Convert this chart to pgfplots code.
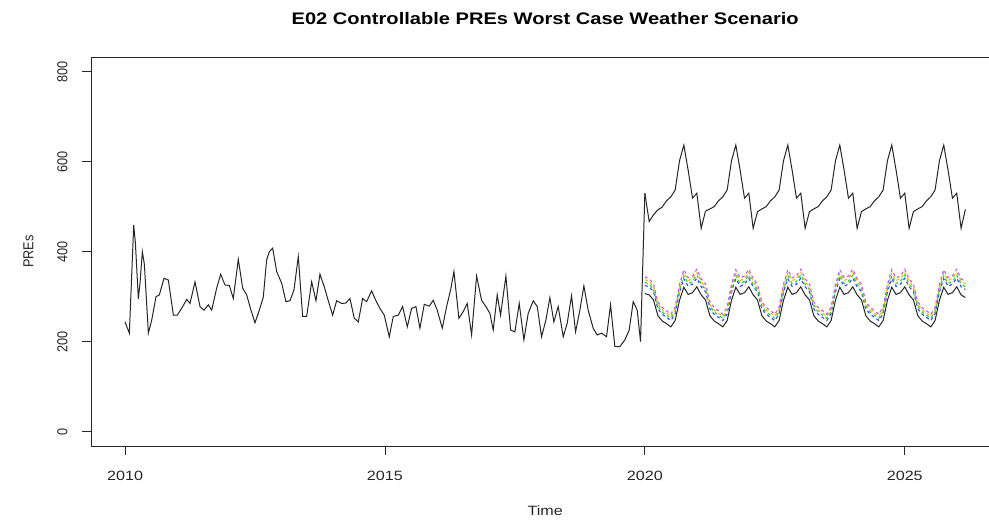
\documentclass[border=0pt]{standalone}
\usepackage{fontspec}
\setmainfont{Liberation Sans}[FakeStretch=1.2]
\newfontfamily\yfont{Liberation Sans}[FakeStretch=0.88]
\usepackage{pgfplots}
\pgfplotsset{compat=1.18}
\usepackage{pgfplotstable}

\definecolor{fblue}{RGB}{40,80,255}
\definecolor{fgreen}{RGB}{40,210,40}
\definecolor{forange}{RGB}{255,180,0}
\definecolor{fviolet}{RGB}{190,90,255}

\pgfplotstableread{
m up low b g o v
0 530 307 325 332 338 344
1 467 304 322 328 334 340
2 482 293 311 316 322 328
3 493 258 273 279 284 289
4 499 246 261 266 271 276
5 513 240 254 259 264 269
6 522 233 247 252 256 261
7 537 247 262 267 272 277
8 602 292 310 315 321 327
9 637 321 340 347 353 360
10 581 305 323 329 336 342
11 519 309 328 334 340 346
12 530 322 341 348 354 361
13 452 304 322 328 334 340
14 490 293 311 316 322 328
15 495 258 273 279 284 289
16 500 246 261 266 271 276
17 513 240 254 259 264 269
18 522 233 247 252 256 261
19 537 247 262 267 272 277
20 602 292 310 315 321 327
21 637 321 340 347 353 360
22 581 305 323 329 336 342
23 519 309 328 334 340 346
24 530 322 341 348 354 361
25 452 304 322 328 334 340
26 489 293 311 316 322 328
27 495 258 273 279 284 289
28 500 246 261 266 271 276
29 513 240 254 259 264 269
30 522 233 247 252 256 261
31 537 247 262 267 272 277
32 602 292 310 315 321 327
33 637 321 340 347 353 360
34 581 305 323 329 336 342
35 519 309 328 334 340 346
36 530 322 341 348 354 361
37 452 304 322 328 334 340
38 489 293 311 316 322 328
39 495 258 273 279 284 289
40 500 246 261 266 271 276
41 513 240 254 259 264 269
42 522 233 247 252 256 261
43 537 247 262 267 272 277
44 602 292 310 315 321 327
45 637 321 340 347 353 360
46 581 305 323 329 336 342
47 519 309 328 334 340 346
48 530 322 341 348 354 361
49 452 304 322 328 334 340
50 489 293 311 316 322 328
51 495 258 273 279 284 289
52 500 246 261 266 271 276
53 513 240 254 259 264 269
54 522 233 247 252 256 261
55 537 247 262 267 272 277
56 602 292 310 315 321 327
57 637 321 340 347 353 360
58 581 305 323 329 336 342
59 519 309 328 334 340 346
60 530 322 341 348 354 361
61 452 304 322 328 334 340
62 489 293 311 316 322 328
63 495 258 273 279 284 289
64 500 246 261 266 271 276
65 513 240 254 259 264 269
66 522 233 247 252 256 261
67 537 247 262 267 272 277
68 602 292 310 315 321 327
69 637 321 340 347 353 360
70 581 305 323 329 336 342
71 519 309 328 334 340 346
72 530 322 341 348 354 361
73 452 304 322 328 334 340
74 494 298 316 322 328 334
}\fcast

\begin{document}
\begin{tikzpicture}
\useasboundingbox (0,0) rectangle (989bp,520bp);
\clip (0,0) rectangle (989bp,520bp);
\begin{axis}[
  at={(91.4bp,73.9bp)}, anchor=south west,
  scale only axis, width=907.6bp, height=388.8bp,
  xmin=2009.353, xmax=2026.813, ymin=-32, ymax=832,
  xtick={2010,2015,2020,2025}, xticklabels={2010,2015,2020,2025},
  ytick={0,200,400,600,800}, yticklabels={0,200,400,600,800},
  tick align=outside, xtick pos=bottom, ytick pos=left,
  major tick length=9bp,
  axis line style={black!85, line width=0.8bp},
  every tick/.style={black!85, line width=0.8bp},
  xticklabel style={font=\fontsize{13.5}{15}\selectfont, anchor=base, yshift=-25bp, text=black!85},
  yticklabel style={font=\yfont\fontsize{14.5}{16}\selectfont, rotate=90, anchor=base, yshift=15bp, text=black!85},
]
\addplot[black!85, line width=1bp] coordinates {
(2010.000,244) (2010.083,219) (2010.167,459) (2010.199,420) (2010.256,295) (2010.288,330)
(2010.333,400) (2010.372,372) (2010.449,219) (2010.513,248) (2010.596,300) (2010.660,304)
(2010.750,341) (2010.833,337) (2010.930,259) (2011.006,259) (2011.109,278) (2011.186,294)
(2011.250,285) (2011.346,333) (2011.442,278) (2011.519,270) (2011.603,282) (2011.667,270)
(2011.763,319) (2011.840,350) (2011.923,326) (2012.006,325) (2012.083,296) (2012.179,383)
(2012.263,319) (2012.340,304) (2012.423,270) (2012.500,242) (2012.583,270) (2012.660,299)
(2012.724,382) (2012.776,400) (2012.840,408) (2012.917,356) (2013.013,330) (2013.096,289)
(2013.173,291) (2013.250,315) (2013.333,389) (2013.417,256) (2013.494,256) (2013.590,333)
(2013.673,291) (2013.750,350) (2013.833,322) (2013.910,291) (2013.994,259) (2014.071,291)
(2014.167,285) (2014.250,286) (2014.327,296) (2014.410,252) (2014.487,244) (2014.571,296)
(2014.647,289) (2014.744,313) (2014.827,291) (2014.904,274) (2014.987,259)
(2015.083,211) (2015.160,256) (2015.256,259) (2015.340,278) (2015.430,233) (2015.513,274)
(2015.596,278) (2015.673,230) (2015.756,283) (2015.853,279) (2015.929,292) (2016.006,270)
(2016.103,230) (2016.186,278) (2016.263,315) (2016.327,356) (2016.423,252) (2016.506,267)
(2016.583,285) (2016.667,215) (2016.763,346) (2016.859,292) (2016.942,278) (2017.019,263)
(2017.083,226) (2017.160,304) (2017.224,259) (2017.327,346) (2017.417,226) (2017.500,222)
(2017.583,285) (2017.673,204) (2017.756,263) (2017.853,291) (2017.930,278) (2018.013,211)
(2018.096,248) (2018.173,298) (2018.250,244) (2018.333,278) (2018.430,211) (2018.506,241)
(2018.590,302) (2018.667,222) (2018.750,270) (2018.827,324) (2018.910,270) (2019.006,230)
(2019.083,215) (2019.167,219) (2019.263,211) (2019.340,282) (2019.423,189) (2019.519,189)
(2019.615,204) (2019.699,226) (2019.776,289) (2019.853,270) (2019.917,200) (2020.000,530)
};
\addplot[black!85, line width=1bp] table[x expr=2020+\thisrow{m}/12, y=up]{\fcast};
\addplot[black!85, line width=1bp] table[x expr=2020+\thisrow{m}/12, y=low]{\fcast};
\addplot[fblue, line width=1.1bp, dash pattern=on 3bp off 3bp] table[x expr=2020+\thisrow{m}/12, y=b]{\fcast};
\addplot[fgreen, line width=1.1bp, dash pattern=on 3bp off 3bp] table[x expr=2020+\thisrow{m}/12, y=g]{\fcast};
\addplot[forange, line width=1.1bp, dash pattern=on 3bp off 3bp] table[x expr=2020+\thisrow{m}/12, y=o]{\fcast};
\addplot[fviolet, line width=1.1bp, dash pattern=on 3bp off 3bp] table[x expr=2020+\thisrow{m}/12, y=v]{\fcast};
\end{axis}
\node[anchor=base, font=\bfseries\fontsize{16.8}{18}\selectfont] at (545.2bp,495bp) {E02 Controllable PREs Worst Case Weather Scenario};
\node[anchor=base, font=\fontsize{13.5}{15}\selectfont, text=black!85] at (545.2bp,5bp) {Time};
\node[anchor=base, rotate=90, font=\yfont\fontsize{14.5}{16}\selectfont, text=black!85] at (33.3bp,268.3bp) {PREs};
\end{tikzpicture}
\end{document}
